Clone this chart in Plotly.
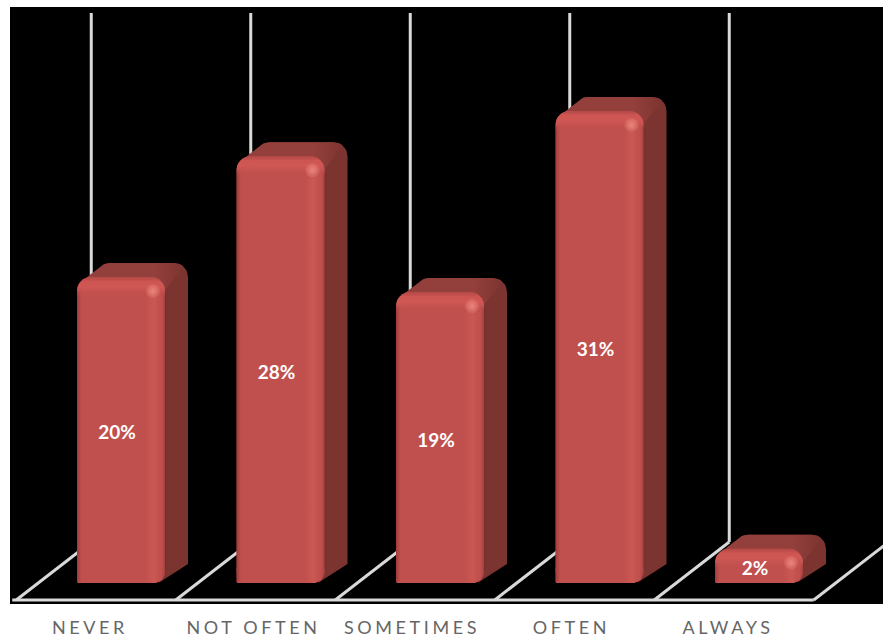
import math
import plotly.graph_objects as go

categories = ["NEVER", "NOT OFTEN", "SOMETIMES", "OFTEN", "ALWAYS"]
values = [20, 28, 19, 31, 2]
labels = ["20%", "28%", "19%", "31%", "2%"]
tick_offsets_px = [-31, -27, -28, -28, -31]

W, H = 883, 637
PL, PR, PT, PB = 10, 883, 7, 604
STEP = 159.5
PX_Y = 15.1
ZERO_PY = 579
BOTTOM_EXT = 4  # bevel reaches below the zero line
BAR_W = 88
X0_PX = 121 - PL  # first bar centre from plot-left
DX, DY = 23, 14
DY_BOTTOM = 19
R = 14
FRONT = "#C0504D"

def xd(px):
    return px / STEP
def yd(px):
    return px / PX_Y

x_range = [-X0_PX / STEP, (PR - PL - X0_PX) / STEP]
y_range = [-(PB - ZERO_PY) / PX_Y, (ZERO_PY - PT) / PX_Y]
xs = list(range(len(categories)))

def arc(cx, cy, r, a0, a1, n=8):
    return [(cx + r * math.cos(math.radians(a0 + (a1 - a0) * k / n)),
             cy + r * math.sin(math.radians(a0 + (a1 - a0) * k / n))) for k in range(n + 1)]

def to_xy(pts, i, v):
    return ([i + xd(p[0]) for p in pts] + [i + xd(pts[0][0])],
            [v + yd(p[1]) for p in pts] + [v + yd(pts[0][1])])

fig = go.Figure()
SIDE, TOP = "#7C3431", "#933F3C"
hw = BAR_W / 2
CLEAR = "rgba(0,0,0,0)"

def poly(i, v, pts, overlay=False, **kw):
    x, y = to_xy(pts, i, v)
    fig.add_trace(go.Scatter(x=x, y=y, mode="lines", fill="toself", line=dict(width=0),
                             hoverinfo="skip", showlegend=False,
                             xaxis="x2" if overlay else "x", yaxis="y2" if overlay else "y", **kw))

for i, v in zip(xs, values):
    h = v * PX_Y + BOTTOM_EXT
    # full extruded silhouette (side colour)
    sil = ([(-hw + 4, -5)] + arc(-hw + DX + R - 4, DY - R, R, 135, 90, 5)
           + arc(hw + DX - R, DY - R, R, 90, 0, 8)
           + [(hw + DX, -h + DY_BOTTOM), (hw - 5, -h + 1)] + [(-hw + 14, -h + 4), (-hw + 4, -h + 8)])
    poly(i, v, sil, fillcolor=SIDE)
    # top face, its right part fading into the side face
    top = ([(-hw + 4, -5)] + arc(-hw + DX + R - 4, DY - R, R, 135, 90, 5)
           + arc(hw + DX - R, DY - R, R, 90, 45, 6) + [(hw - 1, -R)])
    poly(i, v, top, fillgradient=dict(type="horizontal",
                                      colorscale=[[0, TOP], [0.72, TOP], [1, SIDE]]),
         fillcolor=CLEAR)
    # soft dark blend of side face next to the front edge
    if h > 40:
        poly(i, v, [(hw - 4, -14), (hw + 5, -18), (hw + 5, -h + 14), (hw - 4, -h + 10)],
             fillgradient=dict(type="horizontal",
                               colorscale=[[0, "rgba(80,30,30,0.7)"], [1, "rgba(124,52,49,0)"]]),
             fillcolor=CLEAR)

fig.add_trace(go.Bar(x=xs, y=[v + yd(BOTTOM_EXT) for v in values], base=-yd(BOTTOM_EXT),
                     width=BAR_W / STEP, xaxis="x2", yaxis="y2",
                     marker=dict(color=FRONT, line=dict(width=0), cornerradius=R),
                     hoverinfo="skip", showlegend=False))

for i, v in zip(xs, values):
    h = v * PX_Y + BOTTOM_EXT
    # squarer lower corners of the front face
    low = min(R + 1, h / 2)
    poly(i, v, [(-hw + 1, -h), (hw - 9, -h), (hw - 3, -h + 3), (hw, -h + 9), (hw, -h + low), (-hw, -h + low), (-hw, -h + 1)],
         overlay=True, fillcolor=FRONT)
    # left edge shade
    poly(i, v, [(-hw, -R), (-hw + 6, -R), (-hw + 6, -h + 1), (-hw, -h + 1)], overlay=True,
         fillgradient=dict(type="horizontal",
                           colorscale=[[0, "rgba(120,40,38,0.55)"], [1, "rgba(192,80,77,0)"]]),
         fillcolor=CLEAR)
    # right bevel
    poly(i, v, [(hw - 20, -R), (hw, -R), (hw, -h + 9), (hw - 3, -h + 3), (hw - 9, -h), (hw - 20, -h)], overlay=True,
         fillgradient=dict(type="horizontal",
                           colorscale=[[0, "rgba(210,92,88,0)"], [0.45, "rgba(210,92,88,0.6)"],
                                       [0.8, "rgba(192,80,77,0.15)"], [1, "rgba(130,45,42,0.5)"]]),
         fillcolor=CLEAR)
    # top bevel, rounded to the bar outline
    bev = (arc(-hw + R, -R, R, 180, 90) + arc(hw - R, -R, R, 90, 0)
           + [(hw, -20), (-hw, -20)])
    poly(i, v, bev, overlay=True,
         fillgradient=dict(type="vertical",
                           colorscale=[[0, "rgba(192,80,77,0)"], [0.5, "rgba(210,88,85,0.85)"],
                                       [0.78, "rgba(208,86,83,0.85)"], [1, "rgba(170,68,66,0.5)"]]),
         fillcolor=CLEAR)

# specular highlights, soft concentric dots
for size in (14, 10, 6, 3):
    fig.add_trace(go.Scatter(x=[i + xd(hw - 12) for i in xs], y=[v - yd(14) for v in values],
                             mode="markers", xaxis="x2", yaxis="y2", hoverinfo="skip", showlegend=False,
                             marker=dict(size=size, color="rgba(255,165,150,0.2)", line=dict(width=0))))

# value labels
fig.add_trace(go.Scatter(x=[i + xd(-4) for i in xs], y=[v / 2 - yd(6.5) for v in values], mode="text",
                         text=labels, xaxis="x2", yaxis="y2", hoverinfo="skip", showlegend=False,
                         textfont=dict(family="Lato", size=19, color="white", weight="bold")))

# floor and wall lines
GRID = "#D9D9D9"
FLOOR_DX, FLOOR_DY = 75, 58
FRONT_PY = 600 - ZERO_PY
shapes = []
def line(x0, y0, x1, y1):
    shapes.append(dict(type="line", xref="x", yref="y", x0=x0, y0=y0, x1=x1, y1=y1, layer="below",
                       line=dict(color=GRID, width=3)))
fy = -yd(FRONT_PY)
by = fy + yd(FLOOR_DY)
ty = yd(ZERO_PY - 13)
for i in xs + [len(xs)]:
    fx = i - 0.5 + xd(-25)
    line(fx, fy, fx + xd(FLOOR_DX), by)
    if i < len(xs):
        line(fx + xd(FLOOR_DX), by, fx + xd(FLOOR_DX), ty)
line(-0.5 + xd(-29), fy, len(xs) - 0.5 + xd(-25), fy)

axis_common = dict(showgrid=False, zeroline=False, showline=False)
fig.update_layout(
    width=W, height=H, autosize=False, barmode="overlay", showlegend=False,
    paper_bgcolor="white", plot_bgcolor="black",
    margin=dict(l=PL, r=W - PR, t=PT, b=H - PB, pad=0),
    shapes=shapes,
    xaxis=dict(range=x_range, tickmode="array", tickvals=[i + xd(o) for i, o in zip(xs, tick_offsets_px)],
               ticktext=categories, ticks="", ticklabelstandoff=11,
               tickfont=dict(family="Lato", size=18, color="#666666"), **axis_common),
    yaxis=dict(range=y_range, visible=False, **axis_common),
    xaxis2=dict(range=x_range, overlaying="x", visible=False, **axis_common),
    yaxis2=dict(range=y_range, overlaying="y", visible=False, **axis_common),
)

post = """
document.body.style.margin='0';
document.querySelectorAll('.xtick text').forEach(function(t){t.style.letterSpacing='3.6px';});
"""
fig.write_html("out.html", post_script=post, config={"displayModeBar": False})
